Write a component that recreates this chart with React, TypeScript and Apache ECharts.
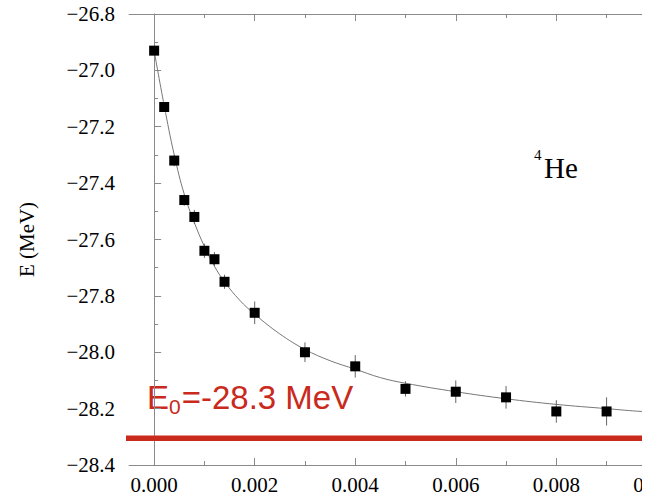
import React, { useEffect, useRef } from "react";
import * as echarts from "echarts";

// Measured data points (x, E in MeV, error)
const xValues = [0, 0.0002, 0.0004, 0.0006, 0.0008, 0.001, 0.0012, 0.0014, 0.002, 0.003, 0.004, 0.005, 0.006, 0.007, 0.008, 0.009];
const energies = [-26.93, -27.13, -27.32, -27.46, -27.52, -27.64, -27.67, -27.75, -27.86, -28.0, -28.05, -28.13, -28.14, -28.16, -28.21, -28.21];
const errors = [0.01, 0.01, 0.02, 0.02, 0.025, 0.025, 0.025, 0.025, 0.04, 0.035, 0.04, 0.027, 0.04, 0.04, 0.04, 0.05];

// Fit curve
const fitX = [0, 0.0002, 0.0004, 0.0006, 0.0008, 0.001, 0.0012, 0.0014, 0.0017, 0.002, 0.0025, 0.003, 0.0035, 0.004, 0.0045, 0.005, 0.006, 0.007, 0.008, 0.009, 0.0097, 0.0105];
const fitY = [-26.93, -27.125, -27.3, -27.44, -27.54, -27.625, -27.695, -27.75, -27.815, -27.865, -27.935, -27.99, -28.03, -28.06, -28.09, -28.11, -28.14, -28.165, -28.185, -28.2, -28.21, -28.215];

// Asymptote
const e0Value = -28.305;
const e0LineX = [-0.00062, 0.0105];

// Axes
const xMajorTicks = [0, 0.002, 0.004, 0.006, 0.008, 0.01];
const xMinorTicks = [0.001, 0.003, 0.005, 0.007, 0.009];
const xMin = -0.0005;
const xMax = 0.0105;
const yMin = -28.4;
const yMax = -26.8;
const yInterval = 0.2;

const AXIS_COLOR = "#8a8a8a";
const RED = "#c92a1c";
const SERIF = "'Liberation Serif', 'Times New Roman', serif";
const SANS = "'Liberation Sans', Arial, Helvetica, sans-serif";

function xAxisDef(position: "top" | "bottom", ticks: number[], len: number, showLine: boolean, showLabel: boolean) {
  return {
    type: "value",
    position,
    min: xMin,
    max: xMax,
    axisLine: { show: showLine, onZero: false, lineStyle: { color: AXIS_COLOR, width: 1 } },
    axisTick: { show: true, inside: true, length: len, customValues: ticks, lineStyle: { color: AXIS_COLOR, width: 1 } },
    axisLabel: showLabel
      ? {
          show: true,
          customValues: ticks,
          margin: 9,
          color: "#000",
          fontSize: 21,
          fontFamily: SERIF,
          formatter: (v: number) => v.toFixed(3),
        }
      : { show: false },
    splitLine: { show: false },
  };
}

export default function App() {
  const ref = useRef<HTMLDivElement>(null);

  useEffect(() => {
    if (!ref.current) return;
    const chart = echarts.init(ref.current, undefined, { renderer: "svg" });

    const points = xValues.map((x, i) => [x, energies[i]]);
    const errData = xValues.map((x, i) => [x, energies[i], errors[i]]);
    const fitData = fitX.map((x, i) => [x, fitY[i]]);
    const e0Data = e0LineX.map((x) => [x, e0Value]);

    chart.setOption({
      animation: false,
      backgroundColor: "#fff",
      grid: { left: 129, right: 18, top: 14, bottom: 30, containLabel: false },
      xAxis: [
        xAxisDef("bottom", xMajorTicks, 7, true, true),
        xAxisDef("bottom", xMinorTicks, 4, false, false),
        xAxisDef("top", xMajorTicks, 7, true, false),
        xAxisDef("top", xMinorTicks, 4, false, false),
      ],
      yAxis: {
        type: "value",
        min: yMin,
        max: yMax,
        interval: yInterval,
        name: "E (MeV)",
        nameLocation: "middle",
        nameRotate: 90,
        nameGap: 92,
        nameTextStyle: { color: "#000", fontSize: 21, fontFamily: SERIF },
        axisLine: { show: true, lineStyle: { color: AXIS_COLOR, width: 1 } },
        axisTick: { show: true, inside: true, length: 7, lineStyle: { color: AXIS_COLOR } },
        minorTick: { show: true, splitNumber: 2, length: 4, lineStyle: { color: AXIS_COLOR } },
        axisLabel: {
          margin: 14,
          color: "#000",
          fontSize: 21,
          fontFamily: SERIF,
          formatter: (v: number) => v.toFixed(1).replace("-", "\u2212"),
        },
        splitLine: { show: false },
        minorSplitLine: { show: false },
      },
      series: [
        {
          type: "line",
          data: e0Data,
          showSymbol: false,
          clip: false,
          lineStyle: { color: RED, width: 5.5 },
          silent: true,
          z: 1,
        },
        {
          type: "line",
          data: fitData,
          smooth: 0.4,
          showSymbol: false,
          lineStyle: { color: "#777", width: 1 },
          silent: true,
          z: 2,
        },
        {
          type: "custom",
          data: errData,
          z: 3,
          renderItem: (params: any, api: any) => {
            const x = api.value(0);
            const y = api.value(1);
            const e = api.value(2);
            const top = api.coord([x, y + e]);
            const bot = api.coord([x, y - e]);
            return {
              type: "line",
              shape: { x1: top[0], y1: top[1], x2: bot[0], y2: bot[1] },
              style: { stroke: "#666", lineWidth: 1 },
            };
          },
        },
        {
          type: "scatter",
          data: points,
          symbol: "rect",
          symbolSize: 10,
          itemStyle: { color: "#000", opacity: 1 },
          z: 4,
        },
      ],
      graphic: [
        {
          type: "text",
          x: 147,
          y: 380,
          style: {
            text: "{m|E}{s|0}{m|=-28.3 MeV}",
            verticalAlign: "top",
            rich: {
              m: { fill: RED, color: RED, fontSize: 33, fontFamily: SANS, verticalAlign: "bottom", lineHeight: 37, padding: [0, 0, 3, 0] },
              s: { fill: RED, color: RED, fontSize: 21, fontFamily: SANS, verticalAlign: "bottom", lineHeight: 37, padding: [0, 1, 0, 0] },
            },
          },
        },
        {
          type: "text",
          x: 534,
          y: 155,
          style: { text: "4", fill: "#000", fontSize: 15, fontFamily: SERIF, verticalAlign: "middle" },
        },
        {
          type: "text",
          x: 544,
          y: 168,
          style: { text: "He", fill: "#000", fontSize: 29, fontFamily: SERIF, verticalAlign: "middle" },
        },
      ],
    });

    return () => {
      chart.dispose();
    };
  }, []);

  return (
    <div
      style={{
        position: "absolute",
        left: 0,
        top: 0,
        width: 642,
        height: 495,
        overflow: "hidden",
        background: "#fff",
      }}
    >
      <div ref={ref} style={{ width: 700, height: 495 }} />
    </div>
  );
}
